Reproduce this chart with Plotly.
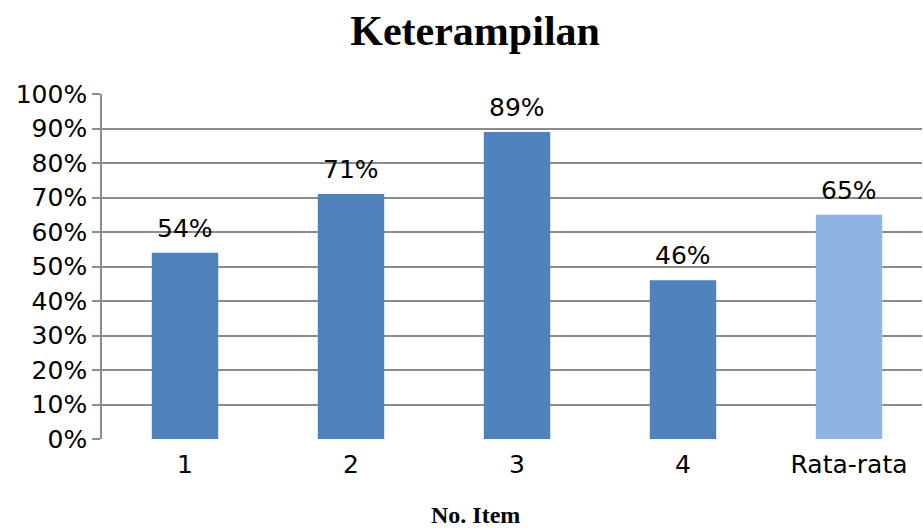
import plotly.graph_objects as go

# Skill scores per item, plus the overall average
items = ["1", "2", "3", "4", "Rata-rata"]
scores = [54, 71, 89, 46, 65]
bar_colors = ["#4F81BD", "#4F81BD", "#4F81BD", "#4F81BD", "#8EB4E3"]
y_ticks = list(range(0, 101, 10))
y_tick_labels = [f"{v}%" for v in y_ticks]

fig = go.Figure(
    go.Bar(
        x=list(range(len(items))),
        y=scores,
        marker=dict(color=bar_colors, line=dict(width=0)),
        width=0.40,
    )
)

# value labels placed a little above each bar
for i, v in enumerate(scores):
    fig.add_annotation(
        x=i, y=v, xref="x", yref="y",
        text=f"{v}%", showarrow=False,
        xanchor="center", yanchor="bottom", yshift=8,
        font=dict(family="DejaVu Sans", size=25, color="#000000"),
    )

fig.add_annotation(
    text="<b>No. Item</b>",
    xref="paper", yref="paper",
    x=0.455, y=-0.220,
    xanchor="center", yanchor="middle",
    showarrow=False, borderpad=0,
    font=dict(family="Liberation Serif", size=24, color="#000000"),
)

fig.update_layout(
    width=923,
    height=528,
    margin=dict(l=102, r=1, t=94, b=89),
    paper_bgcolor="white",
    plot_bgcolor="white",
    showlegend=False,
    title=dict(
        text="<b>Keterampilan</b>",
        font=dict(family="Liberation Serif", size=42, color="#000000"),
        x=0.455, xref="paper", xanchor="center",
        y=0.943, yref="container", yanchor="middle",
    ),
)

fig.update_xaxes(
    range=[-0.5, -0.5 + 820 / 166],
    tickvals=list(range(len(items))),
    ticktext=items,
    tickfont=dict(family="DejaVu Sans", size=25, color="#000000"),
    showgrid=False,
    showline=False,
    zeroline=False,
    ticks="",
    ticklabelstandoff=8,
)

fig.update_yaxes(
    range=[0, 100],
    tickvals=y_ticks,
    ticktext=y_tick_labels,
    tickfont=dict(family="DejaVu Sans", size=25, color="#000000"),
    showgrid=True,
    gridcolor="#8C8C8C",
    gridwidth=1.6,
    showline=True,
    linecolor="#8C8C8C",
    linewidth=1.6,
    ticks="outside",
    ticklen=8,
    tickcolor="#8C8C8C",
    tickwidth=1.6,
    zeroline=False,
)

fig.write_html("out.html")
